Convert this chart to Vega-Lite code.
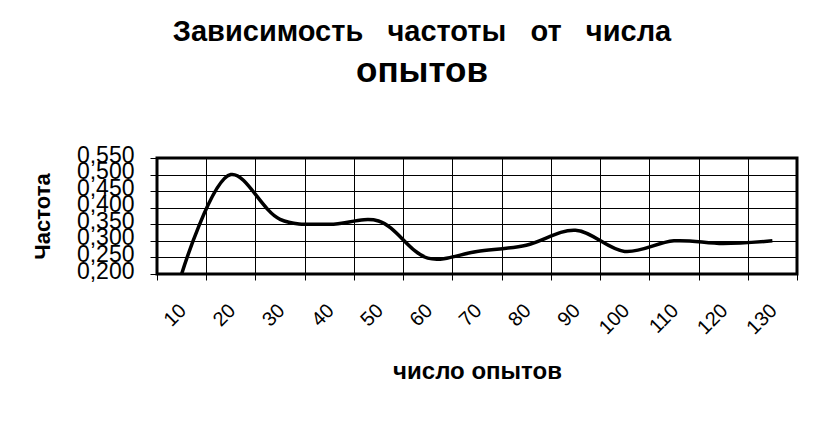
{
  "$schema": "https://vega.github.io/schema/vega-lite/v6.json",
  "autosize": "none",
  "width": 640,
  "height": 116,
  "padding": {"left": 157, "top": 158, "right": 23, "bottom": 147},
  "background": "white",
  "config": {
    "font": "Liberation Sans",
    "locale": {"number": {"decimal": ",", "thousands": " ", "grouping": [3], "currency": ["", ""]}},
    "view": {"stroke": "black", "strokeWidth": 3}
  },
  "title": {
    "text": "Зависимость\u00a0\u00a0\u00a0частоты\u00a0\u00a0\u00a0от\u00a0\u00a0\u00a0числа",
    "subtitle": "опытов",
    "font": "Liberation Sans",
    "fontSize": 29,
    "fontWeight": "bold",
    "color": "black",
    "subtitleFont": "Liberation Sans",
    "subtitleFontSize": 35,
    "subtitleFontWeight": "bold",
    "subtitleColor": "black",
    "subtitlePadding": 7,
    "anchor": "middle",
    "dx": -55,
    "offset": 55
  },
  "data": {
    "values": [
      {"n": "10", "f": 0.200},
      {"n": "20", "f": 0.500},
      {"n": "30", "f": 0.365},
      {"n": "40", "f": 0.350},
      {"n": "50", "f": 0.360},
      {"n": "60", "f": 0.248},
      {"n": "70", "f": 0.268},
      {"n": "80", "f": 0.287},
      {"n": "90", "f": 0.332},
      {"n": "100", "f": 0.268},
      {"n": "110", "f": 0.300},
      {"n": "120", "f": 0.292},
      {"n": "130", "f": 0.300}
    ]
  },
  "mark": {"type": "line", "interpolate": "catmull-rom", "color": "black", "strokeWidth": 3.5, "clip": true},
  "encoding": {
    "x": {
      "field": "n",
      "type": "ordinal",
      "sort": null,
      "scale": {"type": "band", "paddingInner": 0, "paddingOuter": 0},
      "axis": {
        "title": "число опытов",
        "titleFont": "Liberation Sans",
        "titleFontSize": 24,
        "titleFontWeight": "bold",
        "titleColor": "black",
        "titlePadding": 22,
        "labelAngle": -45,
        "labelFontSize": 20,
        "labelColor": "black",
        "labelPadding": 20,
        "labelOffset": -6,
        "tickBand": "extent",
        "tickSize": 6,
        "tickColor": "black",
        "grid": true,
        "gridColor": "black",
        "gridWidth": 1,
        "gridOpacity": 1,
        "domain": false
      }
    },
    "y": {
      "field": "f",
      "type": "quantitative",
      "scale": {"domain": [0.2, 0.55], "nice": false, "zero": false},
      "axis": {
        "title": "Частота",
        "titleFont": "Liberation Sans",
        "titleFontSize": 22,
        "titleFontWeight": "bold",
        "titleColor": "black",
        "titlePadding": 22,
        "values": [0.2, 0.25, 0.3, 0.35, 0.4, 0.45, 0.5, 0.55],
        "format": ".3f",
        "labelFontSize": 23,
        "labelColor": "black",
        "labelOverlap": false,
        "labelBound": false,
        "labelFlush": false,
        "labelPadding": 16,
        "labelOffset": -3,
        "tickSize": 7,
        "tickColor": "black",
        "grid": true,
        "gridColor": "black",
        "gridWidth": 1,
        "gridOpacity": 1,
        "domain": false
      }
    }
  }
}
